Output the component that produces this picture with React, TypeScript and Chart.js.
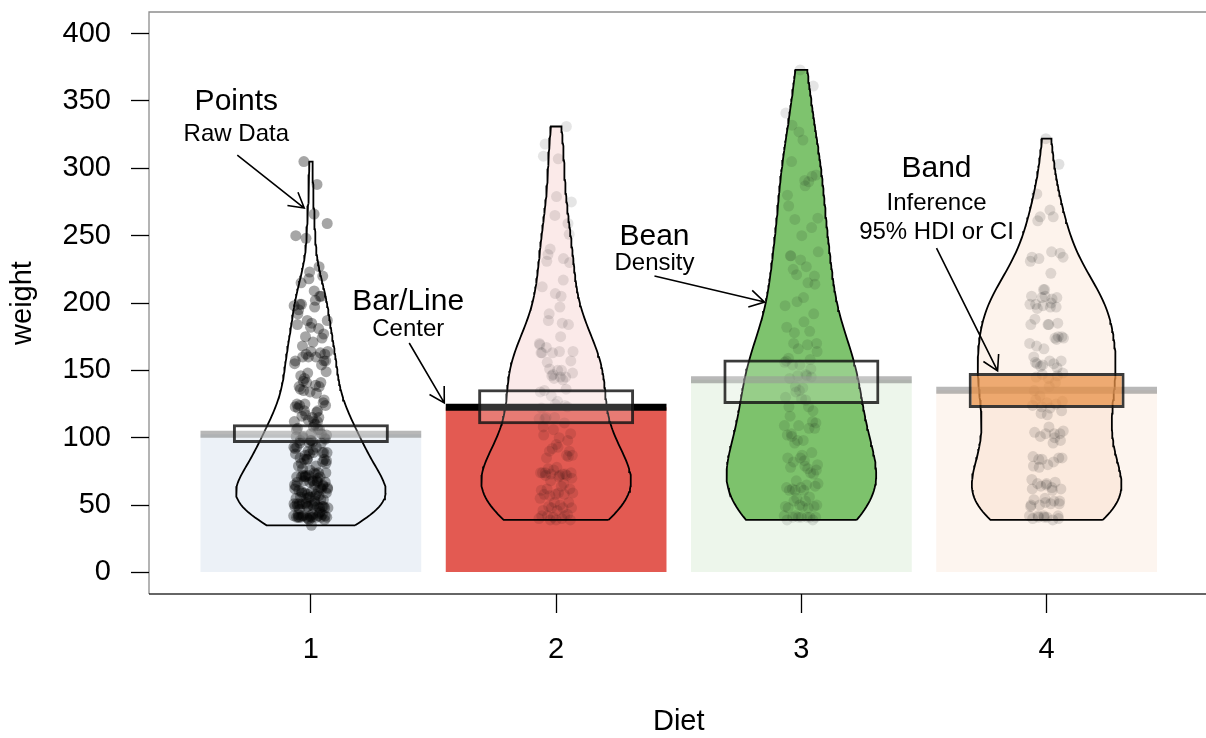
import React, { useEffect, useRef } from 'react';
import { Chart, registerables } from 'chart.js';

Chart.register(...registerables);

// ---------------- data ----------------
const DIETS = [1, 2, 3, 4];

const DIET1_WEIGHT = [
  42, 51, 59, 64, 76, 93, 106, 125, 149, 171, 199, 205,
  40, 49, 58, 72, 84, 103, 122, 138, 162, 187, 209, 215,
  43, 39, 55, 67, 84, 99, 115, 138, 163, 187, 198, 202,
  42, 49, 56, 67, 74, 87, 102, 108, 136, 154, 160, 157,
  41, 42, 48, 60, 79, 106, 141, 164, 197, 199, 220, 223,
  41, 49, 59, 74, 97, 124, 141, 148, 155, 160, 160, 157,
  41, 49, 57, 71, 89, 112, 146, 174, 218, 250, 288, 305,
  42, 50, 61, 71, 84, 93, 110, 116, 126, 134, 125,
  42, 51, 59, 68, 85, 96, 90, 92, 93, 100, 100, 98,
  41, 44, 52, 63, 74, 81, 89, 96, 101, 112, 120, 124,
  43, 51, 63, 84, 112, 139, 168, 177, 182, 184, 181, 175,
  41, 49, 56, 62, 72, 88, 119, 135, 162, 185, 195, 205,
  41, 48, 53, 60, 65, 67, 71, 70, 71, 81, 91, 96,
  41, 49, 62, 79, 101, 128, 164, 192, 227, 248, 259, 266,
  41, 49, 56, 64, 68, 68, 67, 68,
  41, 45, 49, 51, 57, 51, 54,
  42, 51, 61, 72, 83, 89, 98, 103, 113, 123, 133, 142,
  39, 35,
  43, 48, 55, 62, 65, 71, 82, 88, 106, 120, 144, 157,
  41, 47, 54, 58, 65, 73, 77, 89, 98, 107, 115, 117,
];

const DIET2_WEIGHT = [
  40, 50, 62, 86, 125, 163, 217, 240, 275, 307, 318, 331,
  41, 55, 64, 77, 90, 95, 108, 111, 131, 148, 164, 167,
  43, 52, 61, 73, 90, 103, 127, 135, 145, 163, 170, 175,
  42, 52, 58, 74, 66, 68, 70, 71, 72, 72, 76, 74,
  40, 49, 62, 78, 102, 124, 146, 164, 197, 231, 259, 265,
  42, 48, 57, 74, 93, 114, 136, 147, 169, 205, 236, 251,
  39, 46, 58, 73, 87, 100, 115, 123, 144, 163, 185, 192,
  39, 46, 58, 73, 92, 114, 145, 156, 184, 207, 212, 233,
  39, 48, 59, 74, 87, 106, 134, 150, 187, 230, 279, 309,
  42, 48, 59, 72, 85, 98, 115, 122, 143, 151, 157, 150,
];

const DIET3_WEIGHT = [
  42, 53, 62, 73, 85, 102, 123, 138, 170, 204, 235, 256,
  41, 49, 65, 82, 107, 129, 159, 179, 221, 263, 291, 305,
  39, 50, 63, 77, 96, 111, 137, 144, 151, 146, 156, 147,
  41, 49, 63, 85, 107, 134, 164, 186, 235, 294, 327, 341,
  41, 53, 64, 87, 123, 158, 201, 238, 287, 332, 361, 373,
  39, 48, 61, 76, 98, 116, 145, 166, 198, 227, 225, 220,
  41, 48, 56, 68, 80, 83, 103, 112, 135, 157, 169, 178,
  41, 49, 61, 74, 98, 109, 128, 154, 192, 232, 280, 290,
  42, 50, 61, 78, 89, 109, 130, 146, 170, 214, 250, 272,
  41, 55, 66, 79, 101, 120, 154, 182, 215, 262, 295, 321,
];

const DIET4_WEIGHT = [
  42, 51, 66, 85, 103, 124, 155, 153, 175, 184, 199, 204,
  42, 49, 63, 84, 103, 126, 160, 174, 204, 234, 269, 281,
  42, 55, 69, 96, 131, 157, 184, 188, 197, 198, 199, 200,
  42, 51, 65, 86, 103, 118, 127, 138, 145, 146,
  41, 50, 61, 78, 98, 117, 135, 141, 147, 174, 197, 196,
  40, 52, 62, 82, 101, 120, 144, 156, 173, 210, 231, 238,
  41, 53, 66, 79, 100, 123, 148, 157, 168, 185, 210, 205,
  39, 50, 62, 80, 104, 125, 154, 170, 222, 261, 303, 322,
  40, 53, 64, 85, 108, 128, 152, 166, 184, 203, 233, 237,
  41, 54, 67, 84, 105, 122, 155, 175, 205, 234, 264, 264,
];

const WEIGHTS = [DIET1_WEIGHT, DIET2_WEIGHT, DIET3_WEIGHT, DIET4_WEIGHT];

// 95% HDI inference band limits
const BAND_LOW = [96, 110, 125, 122];
const BAND_HIGH = [110, 136, 158, 148];

const Y_TICKS = [0, 50, 100, 150, 200, 250, 300, 350, 400];

// ---------------- styles ----------------
const FONT = "'Liberation Sans', Arial, Helvetica, sans-serif";
const BAR_COLORS = ['#ECF1F7', '#E35A52', '#EDF6EB', '#FDF5EF'];
const BEAN_FILLS = [
  'rgba(255,255,255,0)',
  'rgba(227,90,82,0.13)',
  'rgba(112,188,94,0.9)',
  'rgba(236,158,98,0.12)',
];
const LINE_COLORS = ['rgba(125,125,125,0.55)', '#000000', 'rgba(125,125,125,0.55)', 'rgba(125,125,125,0.55)'];
const BAND_FILLS = ['rgba(255,255,255,0.2)', 'rgba(255,255,255,0.2)', 'rgba(255,255,255,0.2)', 'rgba(232,145,72,0.75)'];
const POINT_ALPHA = [0.35, 0.1, 0.1, 0.12];

const ANNOTATIONS = [
  { x: 0.696, head: 'Points', headY: 349.2, subs: [{ text: 'Raw Data', y: 325.4 }], arrow: [0.7, 309.8, 0.973, 270.5] },
  { x: 1.397, head: 'Bar/Line', headY: 200.8, subs: [{ text: 'Center', y: 180.3 }], arrow: [1.401, 170.3, 1.544, 125.8] },
  { x: 2.401, head: 'Bean', headY: 249, subs: [{ text: 'Density', y: 229.7 }], arrow: [2.401, 220, 2.85, 200.7] },
  {
    x: 3.551, head: 'Band', headY: 299.4,
    subs: [{ text: 'Inference', y: 274.2 }, { text: '95% HDI or CI', y: 252.7 }],
    arrow: [3.551, 240.8, 3.8, 149.6],
  },
];

// ---------------- helpers ----------------
const mean = (v: number[]) => v.reduce((a, b) => a + b, 0) / v.length;

function quantile(sorted: number[], p: number) {
  const h = (sorted.length - 1) * p;
  const lo = Math.floor(h);
  const hi = Math.min(lo + 1, sorted.length - 1);
  return sorted[lo] + (h - lo) * (sorted[hi] - sorted[lo]);
}

function bwNrd0(v: number[]) {
  const n = v.length;
  const m = mean(v);
  const sd = Math.sqrt(v.reduce((a, b) => a + (b - m) * (b - m), 0) / (n - 1));
  const s = [...v].sort((a, b) => a - b);
  const iqr = quantile(s, 0.75) - quantile(s, 0.25);
  const lo = Math.min(sd, iqr / 1.34) || sd || 1;
  return 0.9 * lo * Math.pow(n, -0.2);
}

function beanOutline(v: number[], center: number, halfWidth: number) {
  const bw = bwNrd0(v);
  const lo = Math.min(...v);
  const hi = Math.max(...v);
  const steps = 140;
  const ys: number[] = [];
  for (let k = 0; k <= steps; k++) ys.push(lo + ((hi - lo) * k) / steps);
  const dens = ys.map((y) => v.reduce((a, xi) => a + Math.exp(-0.5 * ((y - xi) / bw) ** 2), 0));
  const dmax = Math.max(...dens);
  const right = ys.map((y, k) => ({ x: center + (halfWidth * dens[k]) / dmax, y }));
  const left = ys.map((y, k) => ({ x: center - (halfWidth * dens[k]) / dmax, y })).reverse();
  return [...right, ...left, right[0]];
}

// deterministic spread of the points around the bean centre
const JITTER = 0.07;
const spread = (k: number) => ((((k * 0.6180339887) % 1) - 0.5) * 2 * JITTER);

const boxPlugin = {
  id: 'pirateBox',
  afterDatasetsDraw(chart: any) {
    const { ctx, chartArea: a } = chart;
    ctx.save();
    ctx.lineWidth = 1.3;
    ctx.strokeStyle = 'rgba(0,0,0,0.45)';
    ctx.beginPath();
    ctx.moveTo(a.left, a.bottom);
    ctx.lineTo(a.left, a.top);
    ctx.lineTo(a.right, a.top);
    ctx.lineTo(a.right, a.bottom);
    ctx.stroke();
    ctx.strokeStyle = 'rgba(0,0,0,0.8)';
    ctx.lineWidth = 1.6;
    ctx.beginPath();
    ctx.moveTo(a.left, a.bottom);
    ctx.lineTo(a.right, a.bottom);
    ctx.stroke();
    ctx.restore();
  },
};

const annotationPlugin = {
  id: 'pirateNotes',
  afterDraw(chart: any) {
    const { ctx } = chart;
    const xs = chart.scales.x;
    const ys = chart.scales.y;
    ctx.save();
    ctx.fillStyle = '#000';
    ctx.strokeStyle = '#000';
    ctx.textAlign = 'center';
    ctx.textBaseline = 'middle';
    for (const a of ANNOTATIONS) {
      const px = xs.getPixelForValue(a.x);
      ctx.font = `30px ${FONT}`;
      ctx.fillText(a.head, px, ys.getPixelForValue(a.headY));
      ctx.font = `24px ${FONT}`;
      for (const s of a.subs) ctx.fillText(s.text, px, ys.getPixelForValue(s.y));
      const x0 = xs.getPixelForValue(a.arrow[0]);
      const y0 = ys.getPixelForValue(a.arrow[1]);
      const x1 = xs.getPixelForValue(a.arrow[2]);
      const y1 = ys.getPixelForValue(a.arrow[3]);
      ctx.lineWidth = 1.6;
      ctx.beginPath();
      ctx.moveTo(x0, y0);
      ctx.lineTo(x1, y1);
      const ang = Math.atan2(y1 - y0, x1 - x0) + Math.PI;
      const len = 17;
      const spreadA = Math.PI / 6;
      ctx.moveTo(x1 + len * Math.cos(ang - spreadA), y1 + len * Math.sin(ang - spreadA));
      ctx.lineTo(x1, y1);
      ctx.lineTo(x1 + len * Math.cos(ang + spreadA), y1 + len * Math.sin(ang + spreadA));
      ctx.stroke();
    }
    ctx.restore();
  },
};

export default function App() {
  const ref = useRef<HTMLCanvasElement | null>(null);

  useEffect(() => {
    if (!ref.current) return;
    const means = WEIGHTS.map(mean);

    const datasets: any[] = [];

    datasets.push({
      type: 'bar',
      data: DIETS.map((d, i) => ({ x: d, y: means[i] })),
      backgroundColor: BAR_COLORS,
      borderWidth: 0,
      grouped: false,
      categoryPercentage: 1,
      barPercentage: 0.9,
      order: 50,
    });

    DIETS.forEach((d, i) => {
      datasets.push({
        type: 'line',
        data: beanOutline(WEIGHTS[i], d, 0.305),
        borderColor: '#000',
        borderWidth: 1.8,
        backgroundColor: BEAN_FILLS[i],
        fill: 'shape',
        pointRadius: 0,
        tension: 0,
        order: 40,
      });
    });

    DIETS.forEach((d, i) => {
      datasets.push({
        type: 'scatter',
        data: WEIGHTS[i].map((w, k) => ({ x: d + spread(k), y: w })),
        backgroundColor: `rgba(0,0,0,${POINT_ALPHA[i]})`,
        borderWidth: 0,
        pointRadius: 5.5,
        pointBorderWidth: 0,
        order: 30,
      });
    });

    DIETS.forEach((d, i) => {
      datasets.push({
        type: 'line',
        data: [
          { x: d - 0.45, y: means[i] },
          { x: d + 0.45, y: means[i] },
        ],
        borderColor: LINE_COLORS[i],
        borderWidth: 7,
        borderCapStyle: 'butt',
        pointRadius: 0,
        fill: false,
        order: 20,
      });
    });

    datasets.push({
      type: 'bar',
      data: DIETS.map((d, i) => ({ x: d, y: [BAND_LOW[i], BAND_HIGH[i]] })),
      backgroundColor: BAND_FILLS,
      borderColor: 'rgba(25,25,25,0.85)',
      borderWidth: 3,
      borderSkipped: false,
      grouped: false,
      categoryPercentage: 1,
      barPercentage: 0.636,
      order: 10,
    });

    const chart = new Chart(ref.current, {
      type: 'scatter',
      data: { datasets },
      plugins: [boxPlugin, annotationPlugin],
      options: {
        responsive: false,
        animation: false,
        events: [],
        layout: { padding: { top: 12, right: 3, left: 0, bottom: 0 } },
        plugins: {
          legend: { display: false },
          tooltip: { enabled: false },
        },
        scales: {
          x: {
            type: 'linear',
            min: 0.34,
            max: 4.66,
            offset: false,
            afterBuildTicks: (s: any) => {
              s.ticks = DIETS.map((v) => ({ value: v }));
            },
            afterFit: (s: any) => {
              s.height = 144;
              s.paddingLeft = 0;
              s.paddingRight = 0;
            },
            grid: { drawOnChartArea: false, drawTicks: true, tickLength: 19, tickColor: '#000', tickWidth: 1.3, offset: false },
            border: { display: false },
            ticks: {
              font: { family: FONT, size: 29 },
              color: '#000',
              padding: 20,
              maxRotation: 0,
              autoSkip: false,
              callback: (v: any) => String(v),
            },
            title: {
              display: true,
              text: 'Diet',
              color: '#000',
              font: { family: FONT, size: 29, lineHeight: 1 },
              padding: { top: 0, bottom: 2 },
            },
          },
          y: {
            type: 'linear',
            min: -16,
            max: 416,
            afterBuildTicks: (s: any) => {
              s.ticks = Y_TICKS.map((v) => ({ value: v }));
            },
            afterFit: (s: any) => {
              s.width = 149;
              s.paddingTop = 0;
              s.paddingBottom = 0;
            },
            grid: { drawOnChartArea: false, drawTicks: true, tickLength: 18, tickColor: '#000', tickWidth: 1.3 },
            border: { display: false },
            ticks: {
              font: { family: FONT, size: 29 },
              color: '#000',
              padding: 20,
              autoSkip: false,
              callback: (v: any) => String(v),
            },
            title: {
              display: true,
              text: 'weight',
              color: '#000',
              font: { family: FONT, size: 29, lineHeight: 1.2 },
              padding: { top: 6, bottom: 0 },
            },
          },
        },
      } as any,
    } as any);

    return () => chart.destroy();
  }, []);

  return (
    <div style={{ position: 'absolute', left: 0, top: 0, width: 1206, height: 738, overflow: 'hidden', background: '#fff' }}>
      <canvas ref={ref} width={1214} height={738} style={{ display: 'block', width: 1214, height: 738 }} />
    </div>
  );
}
